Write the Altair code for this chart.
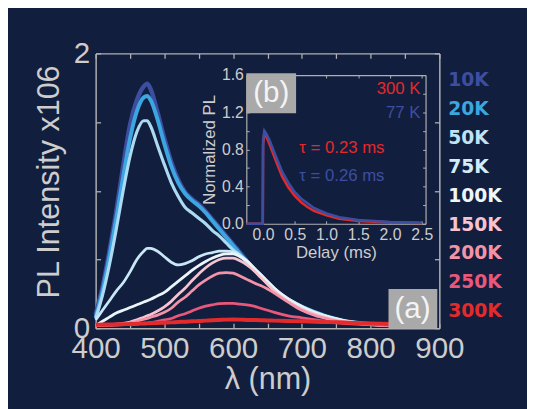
import altair as alt
import pandas as pd

# ---------------- data ----------------
lam = [400, 410, 420, 430, 440, 450, 460, 470, 475, 480, 490, 500, 510, 520, 530, 540,
       550, 560, 570, 580, 590, 600, 610, 620, 630, 640, 650, 660, 680, 700, 720, 740,
       760, 780, 800, 830]

temps = ["10K", "20K", "50K", "75K", "100K", "150K", "200K", "250K", "300K"]
colors = ["#3d4ea1", "#3ba6df", "#acdaf2", "#c9e8f7", "#eaf5fa", "#f6c3cf", "#f293a8", "#e9587a", "#e42b2b"]
label_colors = ["#3d4ea1", "#3ba6df", "#bfe3f5", "#d3ecf8", "#eef6fa", "#f6c3cf", "#f293a8", "#e9587a", "#e42b2b"]
widths = [4.5, 4.0, 3.2, 2.8, 2.8, 2.8, 2.8, 2.8, 4.0]

N = None
pl_10K = [0.10, 0.30, 0.56, 0.85, 1.18, 1.48, 1.66, 1.76, 1.78, 1.74, 1.57, 1.38, 1.21, 1.08, 0.99, 0.94,
          0.90, 0.85, 0.79, 0.73, 0.67, 0.61, 0.55, 0.49, N, N, N, N, N, N, N, N, N, N, N, N]
pl_20K = [0.08, 0.27, 0.52, 0.80, 1.10, 1.38, 1.58, 1.68, 1.69, 1.66, 1.52, 1.34, 1.18, 1.06, 0.98, 0.93,
          0.89, 0.84, 0.78, 0.72, 0.66, 0.60, 0.54, 0.48, 0.43, 0.38, 0.33, 0.28, 0.21, 0.155, 0.115, 0.08,
          0.055, 0.04, 0.03, 0.02]
pl_50K = [0.07, 0.24, 0.46, 0.72, 1.00, 1.25, 1.43, 1.51, 1.51, 1.47, 1.33, 1.19, 1.06, 0.96, 0.88, 0.84,
          0.80, 0.76, 0.71, 0.67, 0.62, 0.57, 0.53, 0.48, 0.43, 0.38, 0.33, 0.28, 0.21, 0.155, 0.11, 0.08,
          0.055, 0.04, 0.03, 0.02]
pl_75K = [0.06, 0.13, 0.20, 0.27, 0.33, 0.41, 0.50, 0.56, 0.58, 0.58, 0.56, 0.52, 0.48, 0.46, 0.47, 0.49,
          0.52, 0.54, 0.55, 0.56, 0.56, 0.555, 0.53, 0.49, 0.44, 0.39, 0.34, 0.29, 0.215, 0.16, 0.115, 0.08,
          0.055, 0.04, 0.03, 0.02]
pl_100K = [0.02, 0.05, 0.08, 0.11, 0.13, 0.15, 0.17, 0.19, 0.20, 0.21, 0.235, 0.26, 0.30, 0.34, 0.38, 0.42,
           0.455, 0.485, 0.51, 0.53, 0.54, 0.54, 0.52, 0.49, 0.44, 0.39, 0.34, 0.29, 0.21, 0.155, 0.11, 0.08,
           0.055, 0.04, 0.03, 0.02]
pl_150K = [0.02, 0.022, 0.025, 0.03, 0.035, 0.045, 0.06, 0.08, 0.09, 0.10, 0.125, 0.155, 0.195, 0.245, 0.29, 0.345,
           0.395, 0.44, 0.475, 0.50, 0.51, 0.51, 0.49, 0.46, 0.42, 0.37, 0.32, 0.27, 0.195, 0.14, 0.10, 0.07,
           0.05, 0.035, 0.025, 0.02]
pl_200K = [0.02, 0.02, 0.022, 0.025, 0.03, 0.04, 0.05, 0.065, 0.07, 0.08, 0.095, 0.115, 0.145, 0.19, 0.225, 0.27,
           0.315, 0.35, 0.38, 0.40, 0.405, 0.40, 0.38, 0.355, 0.33, 0.31, 0.285, 0.255, 0.19, 0.13, 0.09, 0.065,
           0.045, 0.035, 0.025, 0.02]
pl_250K = [0.02, 0.02, 0.02, 0.022, 0.025, 0.027, 0.03, 0.035, 0.037, 0.04, 0.05, 0.06, 0.07, 0.09, 0.105, 0.125,
           0.145, 0.16, 0.17, 0.178, 0.18, 0.18, 0.175, 0.17, 0.16, 0.145, 0.13, 0.115, 0.09, 0.075, 0.06, 0.045,
           0.035, 0.03, 0.025, 0.02]
pl_300K = [0.025, 0.026, 0.027, 0.028, 0.029, 0.03, 0.032, 0.034, 0.035, 0.036, 0.038, 0.04, 0.042, 0.045, 0.047, 0.05,
           0.052, 0.055, 0.058, 0.06, 0.062, 0.063, 0.062, 0.06, 0.059, 0.058, 0.056, 0.055, 0.052, 0.05, 0.047, 0.044,
           0.041, 0.038, 0.035, 0.03]
series = [pl_10K, pl_20K, pl_50K, pl_75K, pl_100K, pl_150K, pl_200K, pl_250K, pl_300K]

# inset: decay curves
delay = [-0.26, -0.005, 0.0, 0.02, 0.05, 0.1, 0.2, 0.3, 0.4, 0.5, 0.6, 0.7, 0.8, 1.0, 1.2, 1.5, 2.0, 2.5]
decay_77K = [0, 0, 0.9, 1.0, 0.97, 0.9, 0.73, 0.56, 0.44, 0.34, 0.27, 0.22, 0.17, 0.11, 0.07, 0.04, 0.02, 0.01]
decay_300K = [0, 0, 0.85, 0.97, 0.94, 0.86, 0.68, 0.51, 0.39, 0.30, 0.23, 0.18, 0.14, 0.09, 0.055, 0.03, 0.015, 0.008]

# ---------------- style ----------------
W, H = 349, 279
BG = "#121e3e"
GRAY = "#b0b0b0"
LBL = "#cdcdcd"
FONT = "Liberation Sans"
RED = "#e32a2a"
BLUE = "#3d4ea1"

xs = alt.Scale(domain=[400, 900], nice=False, zero=False)
ys = alt.Scale(domain=[0, 2], nice=False, zero=False)
ixs = alt.Scale(domain=[-0.264, 2.56], range=[153, 335], nice=False, zero=False)
iys = alt.Scale(domain=[0, 1.6], range=[173, 22], nice=False, zero=False)

layers = []

# main spectra
for i, (T, vals) in enumerate(zip(temps, series)):
    d = pd.DataFrame({"lam": lam, "pl": vals}).dropna()
    if i == 0:
        xax = alt.Axis(orient="bottom", values=list(range(400, 901, 100)), format="d", tickSize=0, labelFont=FONT,
                       labelFontSize=30, labelColor=LBL, labelPadding=6, domainColor=GRAY, domainWidth=1.5,
                       grid=False, title="λ (nm)", titleFont=FONT, titleFontSize=31, titleFontWeight="normal",
                       titleColor=LBL, titlePadding=1, labelFlush=False)
        yax = alt.Axis(orient="left", values=[0, 1, 2], format="d", tickSize=0, labelFont=FONT, labelFontSize=30,
                       labelColor=LBL, labelPadding=6, domainColor=GRAY, domainWidth=1.5, grid=False,
                       title="PL Intensity x106", titleFont=FONT, titleFontSize=31, titleFontWeight="normal",
                       titleColor=LBL, titlePadding=8, titleY=130, labelFlush=False)
    else:
        xax = None
        yax = None
    layers.append(
        alt.Chart(d).mark_line(color=colors[i], strokeWidth=widths[i], interpolate="monotone").encode(
            x=alt.X("lam:Q", scale=xs, axis=xax),
            y=alt.Y("pl:Q", scale=ys, axis=yax),
        )
    )

df_all = pd.DataFrame({"lam": lam, "pl": pl_20K})

# main inward ticks at bottom / left
layers.append(
    alt.Chart(df_all).mark_point(opacity=0).encode(
        x=alt.X("lam:Q", scale=xs, axis=alt.Axis(orient="top", offset=-H, values=list(range(400, 901, 50)),
                                                 tickSize=5, tickColor=GRAY, tickWidth=1.3, labels=False,
                                                 domain=False, grid=False, title=None)),
        y=alt.Y("pl:Q", scale=ys, axis=alt.Axis(orient="right", offset=-W, values=[0, 0.5, 1, 1.5, 2],
                                                tickSize=5, tickColor=GRAY, tickWidth=1.3, labels=False,
                                                domain=False, grid=False, title=None)),
    )
)
# main frame top / right with inward ticks
layers.append(
    alt.Chart(df_all).mark_point(opacity=0).encode(
        x=alt.X("lam:Q", scale=xs, axis=alt.Axis(orient="bottom", offset=-H, values=list(range(400, 901, 50)),
                                                 tickSize=5, tickColor=GRAY, tickWidth=1.3, labels=False,
                                                 domainColor=GRAY, domainWidth=1.5, grid=False, title=None)),
        y=alt.Y("pl:Q", scale=ys, axis=alt.Axis(orient="left", offset=-W, values=[0, 0.5, 1, 1.5, 2],
                                                tickSize=5, tickColor=GRAY, tickWidth=1.3, labels=False,
                                                domainColor=GRAY, domainWidth=1.5, grid=False, title=None)),
    )
)

# (a) label box
box_a = pd.DataFrame({"x": [826], "x2": [897], "y": [0.0], "y2": [0.285], "t": ["(a)"], "tx": [861], "ty": [0.14]})
layers.append(alt.Chart(box_a).mark_rect(color="#a9a9a9").encode(
    x=alt.X("x:Q", scale=xs, axis=None), x2="x2:Q", y=alt.Y("y:Q", scale=ys, axis=None), y2="y2:Q"))
layers.append(alt.Chart(box_a).mark_text(font=FONT, fontSize=30, color="#f4f4f4", baseline="middle").encode(
    x=alt.X("tx:Q", scale=xs, axis=None), y=alt.Y("ty:Q", scale=ys, axis=None), text="t:N"))

# inset decay curves
dec = pd.DataFrame({"t": delay, "a": decay_300K, "b": decay_77K})
layers.append(alt.Chart(dec).mark_line(color=RED, strokeWidth=2.6).encode(
    x=alt.X("t:Q", scale=ixs, axis=alt.Axis(orient="bottom", offset=-(H - 173), values=[0, 0.5, 1, 1.5, 2, 2.5],
                                            format=".1f", tickSize=0, labelFont=FONT, labelFontSize=16,
                                            labelColor=LBL, labelPadding=3, domainColor=GRAY, domainWidth=1.2,
                                            grid=False, title="Delay (ms)", titleFont=FONT, titleFontSize=17,
                                            titleFontWeight="normal", titleColor=LBL, titlePadding=2,
                                            labelFlush=False)),
    y=alt.Y("a:Q", scale=iys, axis=alt.Axis(orient="left", offset=-153, values=[0, 0.4, 0.8, 1.2, 1.6],
                                            format=".1f", tickSize=0, labelFont=FONT, labelFontSize=16,
                                            labelColor=LBL, labelPadding=3, domainColor=GRAY, domainWidth=1.2,
                                            grid=False, title="Normalized PL", titleFont=FONT, titleFontSize=17,
                                            titleFontWeight="normal", titleColor=LBL, titlePadding=3,
                                            labelFlush=False)),
))
layers.append(alt.Chart(dec).mark_line(color=BLUE, strokeWidth=2.6).encode(
    x=alt.X("t:Q", scale=ixs, axis=None), y=alt.Y("b:Q", scale=iys, axis=None)))

# inset inward ticks and frame
layers.append(alt.Chart(dec).mark_point(opacity=0).encode(
    x=alt.X("t:Q", scale=ixs, axis=alt.Axis(orient="top", offset=-173, values=[0, 0.5, 1, 1.5, 2, 2.5],
                                            tickSize=3, tickColor=GRAY, labels=False, domain=False,
                                            grid=False, title=None)),
    y=alt.Y("b:Q", scale=iys, axis=alt.Axis(orient="right", offset=153 - W, values=[0.2 * k for k in range(9)],
                                            tickSize=3, tickColor=GRAY, labels=False, domain=False,
                                            grid=False, title=None)),
))
layers.append(alt.Chart(dec).mark_point(opacity=0).encode(
    x=alt.X("t:Q", scale=ixs, axis=alt.Axis(orient="bottom", offset=22 - H, values=[0, 0.5, 1, 1.5, 2, 2.5],
                                            tickSize=3, tickColor=GRAY, labels=False, domainColor=GRAY,
                                            domainWidth=1.2, grid=False, title=None)),
    y=alt.Y("b:Q", scale=iys, axis=alt.Axis(orient="left", offset=-335, values=[0.2 * k for k in range(9)],
                                            tickSize=3, tickColor=GRAY, labels=False, domainColor=GRAY,
                                            domainWidth=1.2, grid=False, title=None)),
))

# (b) label box
box_b = pd.DataFrame({"x": [-0.264], "x2": [0.52], "y": [1.19], "y2": [1.62], "t": ["(b)"], "tx": [0.128], "ty": [1.405]})
layers.append(alt.Chart(box_b).mark_rect(color="#a9a9a9").encode(
    x=alt.X("x:Q", scale=ixs, axis=None), x2="x2:Q", y=alt.Y("y:Q", scale=iys, axis=None), y2="y2:Q"))
layers.append(alt.Chart(box_b).mark_text(font=FONT, fontSize=30, color="#f4f4f4", baseline="middle").encode(
    x=alt.X("tx:Q", scale=ixs, axis=None), y=alt.Y("ty:Q", scale=iys, axis=None), text="t:N"))

# inset annotations
ann = pd.DataFrame({
    "x": [2.48, 2.48, 0.57, 0.57],
    "y": [1.45, 1.19, 0.81, 0.51],
    "t": ["300 K", "77 K", "τ = 0.23 ms", "τ = 0.26 ms"],
    "c": [RED, BLUE, RED, BLUE],
    "al": ["right", "right", "left", "left"],
})
layers.append(alt.Chart(ann[ann.al == "right"]).mark_text(font=FONT, fontSize=17, align="right", baseline="middle").encode(
    x=alt.X("x:Q", scale=ixs, axis=None), y=alt.Y("y:Q", scale=iys, axis=None), text="t:N",
    color=alt.Color("c:N", scale=None)))
layers.append(alt.Chart(ann[ann.al == "left"]).mark_text(font=FONT, fontSize=17, align="left", baseline="middle").encode(
    x=alt.X("x:Q", scale=ixs, axis=None), y=alt.Y("y:Q", scale=iys, axis=None), text="t:N",
    color=alt.Color("c:N", scale=None)))

# legend as coloured labels
leg = pd.DataFrame({"T": temps, "c": label_colors})
layers.append(alt.Chart(leg).mark_text(font="DejaVu Sans", fontWeight="bold", fontSize=19, align="left",
                                       baseline="middle").encode(
    x=alt.value(358),
    y=alt.Y("T:N", scale=alt.Scale(type="point", domain=temps, range=[27, 262], padding=0), axis=None),
    text="T:N",
    color=alt.Color("c:N", scale=None),
))

chart = alt.layer(*layers).resolve_scale(x="independent", y="independent").resolve_axis(
    x="independent", y="independent"
).properties(
    width=W, height=H,
    padding={"left": 89, "top": 43, "right": 89, "bottom": 79},
    autosize=alt.AutoSizeParams(type="none"),
    background=BG,
).configure_view(stroke=None)

chart.save("out.html", embed_options={"renderer": "svg", "actions": False})
